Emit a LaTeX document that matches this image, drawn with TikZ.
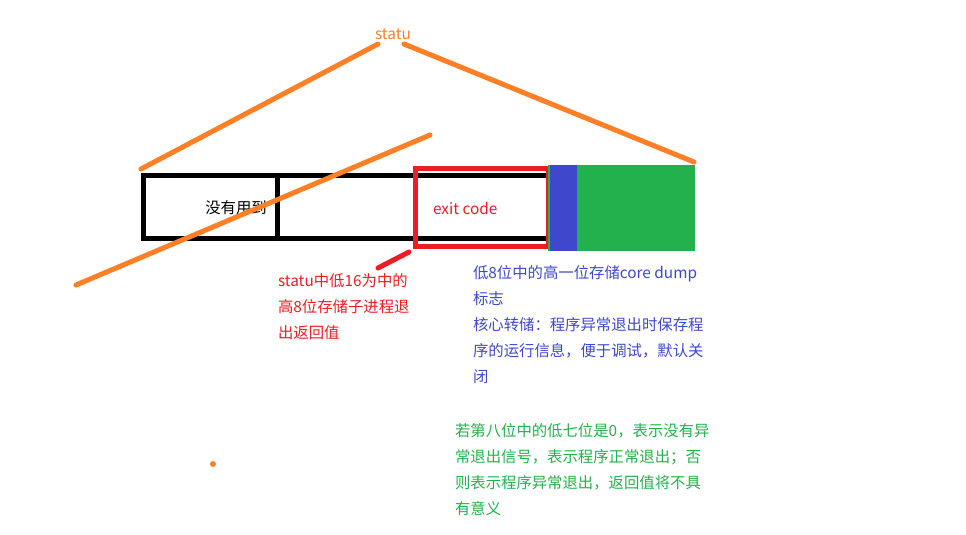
\documentclass[tikz,border=0pt]{standalone}
\usepackage{fontspec}
\newfontfamily\cjk{Noto Sans CJK SC}
\usetikzlibrary{positioning}
\definecolor{paintOrange}{HTML}{FF7F27}
\definecolor{paintRed}{HTML}{ED1C24}
\definecolor{paintGreen}{HTML}{22B14C}
\definecolor{paintBlue}{HTML}{3F48CC}
\tikzset{
	note/.style={inner sep=0, outer sep=0, anchor=north west, align=left,
		font=\cjk\fontsize{8.75}{14.8}\selectfont},
	marker/.style={line width=1mm, line cap=round, paintOrange}
}

\begin{document}
\begin{tikzpicture}[x=0.02cm, y=-0.02cm]
	\useasboundingbox (0,0) rectangle (966,534);
	% the status word
	\draw[line width=1mm] (143.5,175.5) rectangle (548,238);
	\draw[line width=1mm] (277,175.5) -- (277,238);
	\draw[paintRed, line width=1mm] (415.5,168.5) rectangle (548,246.5);
	\fill[paintGreen] (548,165) rectangle (695,251);
	\fill[paintBlue] (550,165) rectangle (577,251);
	\node[note, anchor=center] (unused) at (236,208) {没有用到};
	\node[note, anchor=west, text=paintRed] (exit) at (433,208) {exit code};
	\node[note, anchor=center, text=paintOrange] (statu) at (393,34) {statu};
	\coordinate (statuL) at (378,44);
	\coordinate (statuR) at (404,44);
	\coordinate (wordL) at (141,169);
	\coordinate (wordR) at (694,162);
	\coordinate (crossA) at (76,285);
	\coordinate (crossB) at (430,135);
	\coordinate (codeTip) at (409,252);
	\coordinate (codeTail) at (378,268);
	\draw[marker] (statuL) -- (wordL);
	\draw[marker] (statuR) -- (wordR);
	\draw[marker] (crossA) -- (crossB);
	\fill[paintOrange] (213,464) circle (3);
	\draw[marker, paintRed] (codeTail) -- (codeTip);
	% notes
	\node[note, text=paintRed] (retval) at (278,274) {statu中低16为中的\\高8位存储子进程退\\出返回值};
	\node[note, text=paintBlue] (coreflag) at (473,265) {低8位中的高一位存储core dump\\标志\\核心转储：程序异常退出时保存程\\序的运行信息，便于调试，默认关\\闭};
	\node[note, text=paintGreen] (sigflag) at (455,423) {若第八位中的低七位是0，表示没有异\\常退出信号，表示程序正常退出；否\\则表示程序异常退出，返回值将不具\\有意义};
\end{tikzpicture}
\end{document}
